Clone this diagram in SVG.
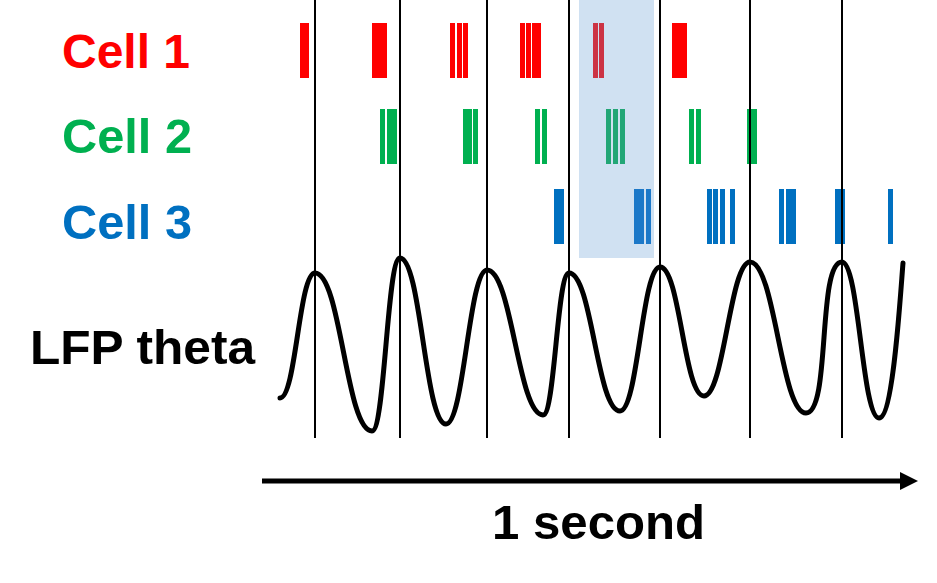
<svg xmlns="http://www.w3.org/2000/svg" width="937" height="583" viewBox="0 0 937 583">
<style>
text{font-family:"Liberation Sans",Arial,sans-serif;font-weight:bold}
.r{fill:#ff0000}.g{fill:#00b050}.b{fill:#0070c0}
.rh{fill:#cc3344}.gh{fill:#22a676}.bh{fill:#1c78c8}
.v{stroke:#000;stroke-width:2}
</style>
<rect id="highlight" x="579" y="0" width="75" height="258" fill="#d0e1f2"/>
<g id="cell1">
<text x="62" y="68" font-size="48" textLength="128" lengthAdjust="spacingAndGlyphs" fill="#ff0000">Cell 1</text>
<g class="r"><rect x="300" y="23" width="9" height="55"/><rect x="372" y="23" width="15" height="55"/><rect x="450" y="23" width="5" height="55"/><rect x="457" y="23" width="5" height="55"/><rect x="463" y="23" width="5" height="55"/><rect x="520" y="23" width="5" height="55"/><rect x="526" y="23" width="5" height="55"/><rect x="532" y="23" width="9" height="55"/><rect x="672" y="23" width="15" height="55"/></g>
<g class="rh"><rect x="593" y="23" width="5" height="55"/><rect x="599" y="23" width="5" height="55"/></g>
</g>
<g id="cell2">
<text x="62" y="153" font-size="48" textLength="130" lengthAdjust="spacingAndGlyphs" fill="#00b050">Cell 2</text>
<g class="g"><rect x="380" y="109" width="5" height="55"/><rect x="387" y="109" width="10" height="55"/><rect x="463" y="109" width="9" height="55"/><rect x="473" y="109" width="5" height="55"/><rect x="535" y="109" width="5" height="55"/><rect x="542" y="109" width="5" height="55"/><rect x="689" y="109" width="5" height="55"/><rect x="696" y="109" width="5" height="55"/><rect x="747" y="109" width="10" height="55"/></g>
<g class="gh"><rect x="606" y="109" width="5" height="55"/><rect x="613" y="109" width="5" height="55"/><rect x="620" y="109" width="5" height="55"/></g>
</g>
<g id="cell3">
<text x="62" y="239" font-size="48" textLength="130" lengthAdjust="spacingAndGlyphs" fill="#0070c0">Cell 3</text>
<g class="b"><rect x="554" y="189" width="10" height="55"/><rect x="707" y="189" width="5" height="55"/><rect x="713" y="189" width="5" height="55"/><rect x="720" y="189" width="5" height="55"/><rect x="730" y="189" width="5" height="55"/><rect x="779" y="189" width="5" height="55"/><rect x="786" y="189" width="10" height="55"/><rect x="835" y="189" width="10" height="55"/><rect x="888" y="189" width="5" height="55"/></g>
<g class="bh"><rect x="634" y="189" width="10" height="55"/><rect x="646" y="189" width="5" height="55"/></g>
</g>
<g id="lfp">
<text x="30" y="364" font-size="48" textLength="225" lengthAdjust="spacingAndGlyphs" fill="#000">LFP theta</text>
<path d="M280,398 C296,398 299,273 315,273 C341,273 346,431 372,431 C385,431 387,258 400,258 C421,258 425,424 446,424 C464,424 469,270 487,270 C512,270 518,415 543,415 C555,415 557,273 569,273 C592,273 597,411 620,411 C638,411 642,267 660,267 C680,267 684,396 704,396 C724,396 730,262 750,262 C775,262 781,413 806,413 C831,413 817,262 842,262 C859,262 862,418 879,418 C893,418 900,300 903,263" fill="none" stroke="#000" stroke-width="5" stroke-linecap="round"/>
</g>
<g id="connectors">
<line class="v" x1="315" y1="0" x2="315" y2="438"/>
<line class="v" x1="400" y1="0" x2="400" y2="438"/>
<line class="v" x1="487" y1="0" x2="487" y2="438"/>
<line class="v" x1="569" y1="0" x2="569" y2="438"/>
<line class="v" x1="660" y1="0" x2="660" y2="438"/>
<line class="v" x1="750" y1="0" x2="750" y2="438"/>
<line class="v" x1="842" y1="0" x2="842" y2="438"/>
<line x1="262" y1="481" x2="902" y2="481" stroke="#000" stroke-width="5"/>
<path d="M900,472 L918,481 L900,490 z" fill="#000"/>
</g>
<g id="axis-label"><text x="492" y="539" font-size="48" textLength="213" lengthAdjust="spacingAndGlyphs" fill="#000">1 second</text></g>
</svg>
